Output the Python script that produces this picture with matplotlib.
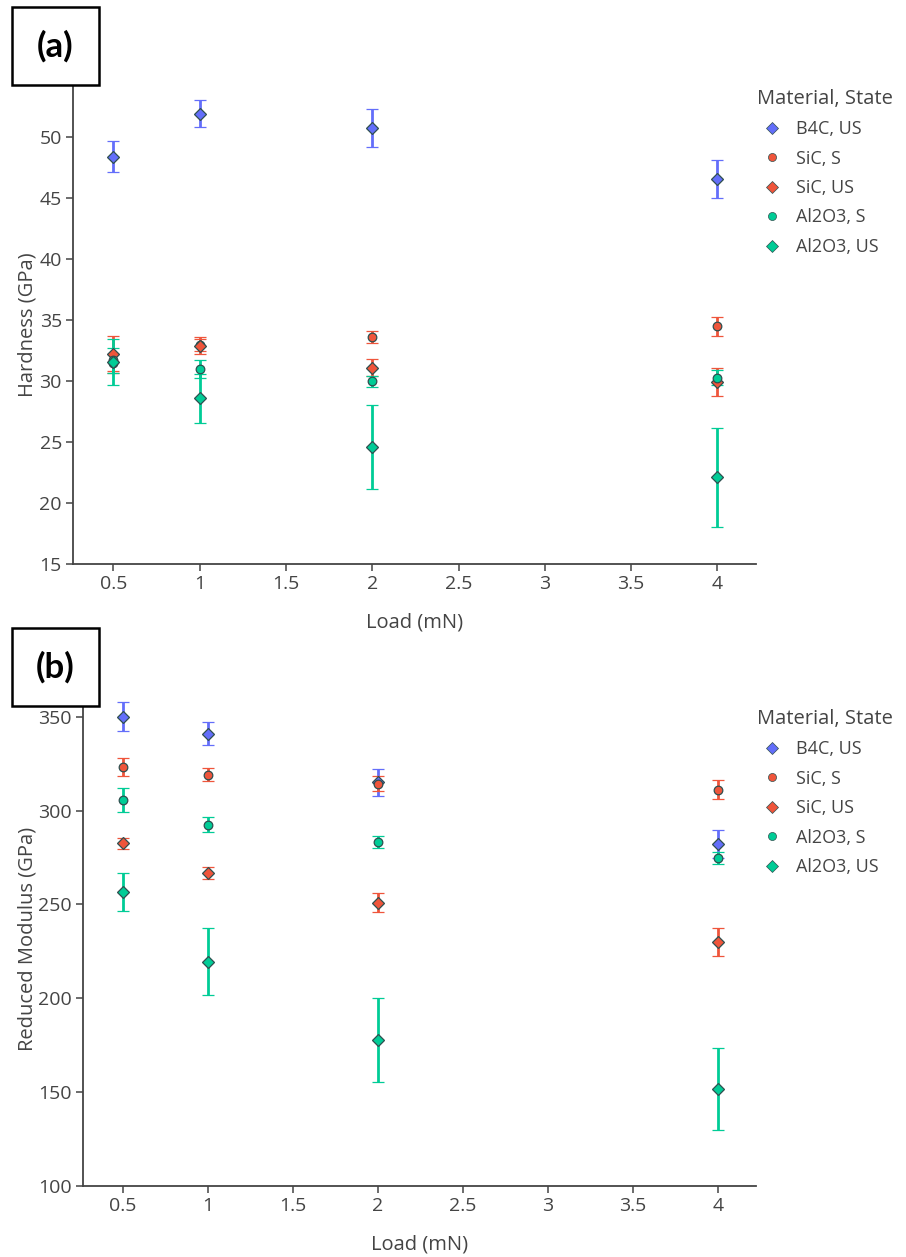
import matplotlib
matplotlib.use("Agg")
import matplotlib.pyplot as plt
from matplotlib.lines import Line2D
from matplotlib.patches import Rectangle

plt.rcParams['font.family'] = ['Open Sans', 'DejaVu Sans']

# ---------------- data ----------------
loads = [0.5, 1, 2, 4]
series_names = ["B4C, US", "SiC, S", "SiC, US", "Al2O3, S", "Al2O3, US"]
series_colors = ["#636EFA", "#EF553B", "#EF553B", "#00CC96", "#00CC96"]
series_markers = ["D", "o", "D", "o", "D"]

# Hardness (GPa)
hard_b4c_us = [48.4, 51.95, 50.8, 46.6]
hard_b4c_us_err = [1.27, 1.1, 1.55, 1.55]
hard_sic_s = [31.5, 33.0, 33.65, 34.5]
hard_sic_s_err = [0.7, 0.5, 0.5, 0.77]
hard_sic_us = [32.2, 32.9, 31.1, 29.9]
hard_sic_us_err = [1.5, 0.7, 0.7, 1.15]
hard_al_s = [31.7, 31.0, 30.0, 30.3]
hard_al_s_err = [1.0, 0.7, 0.45, 0.6]
hard_al_us = [31.6, 28.6, 24.6, 22.1]
hard_al_us_err = [1.9, 2.0, 3.45, 4.05]

# Reduced modulus (GPa)
mod_b4c_us = [350.0, 341.0, 315.0, 282.0]
mod_b4c_us_err = [7.7, 6.3, 7.0, 7.5]
mod_sic_s = [323.3, 319.2, 314.4, 311.2]
mod_sic_s_err = [5.0, 3.3, 4.0, 5.0]
mod_sic_us = [282.5, 267.0, 251.0, 229.9]
mod_sic_us_err = [2.7, 3.2, 4.9, 7.3]
mod_al_s = [305.5, 292.6, 283.3, 274.8]
mod_al_s_err = [6.4, 3.8, 3.0, 3.1]
mod_al_us = [256.7, 219.6, 177.6, 151.5]
mod_al_us_err = [10.3, 17.6, 22.3, 21.9]

x_ticks = [0.5, 1, 1.5, 2, 2.5, 3, 3.5, 4]
x_tick_labels = ["0.5", "1", "1.5", "2", "2.5", "3", "3.5", "4"]
hard_ticks = [15, 20, 25, 30, 35, 40, 45, 50]
mod_ticks = [100, 150, 200, 250, 300, 350]

hard_vals = [hard_b4c_us, hard_sic_s, hard_sic_us, hard_al_s, hard_al_us]
hard_errs = [hard_b4c_us_err, hard_sic_s_err, hard_sic_us_err, hard_al_s_err, hard_al_us_err]
mod_vals = [mod_b4c_us, mod_sic_s, mod_sic_us, mod_al_s, mod_al_us]
mod_errs = [mod_b4c_us_err, mod_sic_s_err, mod_sic_us_err, mod_al_s_err, mod_al_us_err]

# ---------------- figure ----------------
W, H = 906, 1257
fig = plt.figure(figsize=(W / 100, H / 100), dpi=100)

AX_COL = "#444444"
EDGE = "#2F4F4F"


def px_rect(l, t, r, b):
    return [l / W, 1 - b / H, (r - l) / W, (b - t) / H]


def style_axes(ax, yticks, ylim, ylabel, left_px, width_px):
    ax.set_xlim(0.266, 4.224)
    ax.set_ylim(*ylim)
    ax.set_xticks(x_ticks)
    ax.set_xticklabels(x_tick_labels)
    ax.set_yticks(yticks)
    for s in ["top", "right"]:
        ax.spines[s].set_visible(False)
    for s in ["left", "bottom"]:
        ax.spines[s].set_color(AX_COL)
        ax.spines[s].set_linewidth(1.3)
    ax.tick_params(axis="both", direction="out", length=5, width=1.1,
                   color=AX_COL, labelcolor=AX_COL, labelsize=14, pad=3)
    ax.set_xlabel("Load (mN)", fontsize=14.5, color=AX_COL, labelpad=14)
    ax.set_ylabel(ylabel, fontsize=14.5, color=AX_COL)
    ax.yaxis.set_label_coords((38 - left_px) / width_px, 0.5)


def draw(ax, vals, errs):
    for name, col, mk, v, e in zip(series_names, series_colors, series_markers, vals, errs):
        ax.errorbar(loads, v, yerr=e, fmt=mk, color=col, ecolor=col, elinewidth=2.0,
                    capsize=4.5, capthick=2.0, markersize=6.2,
                    markeredgecolor=EDGE, markeredgewidth=0.9, alpha=1.0)


def legend(ax, top_px):
    handles = [Line2D([], [], linestyle="none", marker=mk, color=col, markeredgecolor=EDGE,
                      markeredgewidth=0.5, markersize=6 if mk == "D" else 5.8)
               for col, mk in zip(series_colors, series_markers)]
    leg = ax.legend(handles, series_names, title="Material, State", loc="upper left",
                    bbox_to_anchor=(757 / W, 1 - top_px / H), bbox_transform=fig.transFigure,
                    frameon=False, fontsize=13, title_fontsize=14.5, labelspacing=0.63,
                    handletextpad=0.45, handlelength=1.7, borderpad=0, borderaxespad=0,
                    alignment="left")
    for t in leg.get_texts():
        t.set_color(AX_COL)
    leg.get_title().set_color(AX_COL)


def panel_label(text, l, t, r, b):
    fig.patches.append(Rectangle((l / W, 1 - b / H), (r - l) / W, (b - t) / H,
                                 transform=fig.transFigure, facecolor="white",
                                 edgecolor="black", linewidth=1.8, zorder=10))
    fig.text((l + r) / 2 / W, 1 - (t + b) / 2 / H, text, ha="center", va="center",
             fontsize=25, fontweight="bold", family=["Lato", "DejaVu Sans"], color="black",
             zorder=11)


# Panel (a)
ax1 = fig.add_axes(px_rect(73, 85, 756, 564))
draw(ax1, hard_vals, hard_errs)
style_axes(ax1, hard_ticks, (15, 54.3), "Hardness (GPa)", 73, 683)
legend(ax1, 89)

# Panel (b)
ax2 = fig.add_axes(px_rect(83, 692, 756, 1186))
draw(ax2, mod_vals, mod_errs)
style_axes(ax2, mod_ticks, (100, 363.2), "Reduced Modulus (GPa)", 83, 673)
legend(ax2, 709)

panel_label("(a)", 12, 7, 99, 85)
panel_label("(b)", 12, 628, 99, 706)

fig.savefig("out.png", dpi=100)
